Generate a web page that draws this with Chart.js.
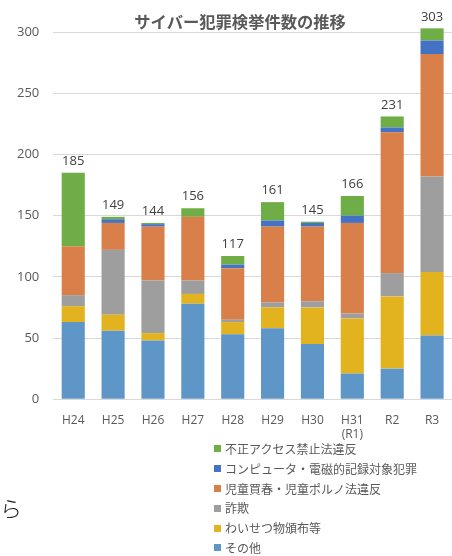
<!DOCTYPE html>
<html><head><meta charset="utf-8">
<script src="https://cdn.jsdelivr.net/npm/chart.js@4"></script>
<style>
html,body{margin:0;padding:0;background:#fff;width:452px;height:556px;overflow:hidden;font-family:"Noto Sans CJK JP","Noto Sans",sans-serif;}
#wrap{position:absolute;left:0;top:0;width:452px;height:556px;}
#legend{position:absolute;left:214px;top:439px;font-size:12px;color:#595959;line-height:19.8px;}
#legend .it{display:flex;align-items:center;white-space:nowrap;}
#legend .sw{width:7px;height:7px;margin-right:4px;display:inline-block;}
#stray{position:absolute;left:0px;top:491px;font-size:22px;color:#222;font-weight:300;}
</style></head>
<body>
<div id="wrap"><canvas id="c" width="452" height="556"></canvas></div>
<div id="legend"></div>
<div id="stray">ら</div>
<script>
const chartTitle = 'サイバー犯罪検挙件数の推移';
const categories = ['H24','H25','H26','H27','H28','H29','H30',['H31','(R1)'],'R2','R3'];
const seriesNames = ['その他','わいせつ物頒布等','詐欺','児童買春・児童ポルノ法違反','コンピュータ・電磁的記録対象犯罪','不正アクセス禁止法違反'];
const sonota     = [63, 56, 48, 78, 53, 58, 45, 21, 25, 52];
const waisetsu   = [13, 13,  6,  8, 10, 17, 30, 45, 59, 52];
const sagi       = [ 9, 53, 43, 11,  2,  4,  5,  4, 19, 78];
const jidou      = [40, 22, 44, 52, 42, 62, 61, 74,115,100];
const computer   = [ 0,  3,  2,  0,  3,  5,  3,  6,  4, 11];
const fusei      = [60,  2,  1,  7,  7, 15,  1, 16,  9, 10];
const yTicks = [0, 50, 100, 150, 200, 250, 300];
const colors = ['#5E96C8','#E2B31F','#9E9E9E','#D9804A','#4472C4','#6FAD47'];
const seriesValues = [sonota, waisetsu, sagi, jidou, computer, fusei];

const datasets = seriesValues.map((v,i)=>({
  label: seriesNames[i], data: v, backgroundColor: colors[i], borderWidth: 0,
  categoryPercentage: 1, barPercentage: 0.58, clip: false
}));

const totalsPlugin = {
  id:'totals',
  afterDatasetsDraw(chart){
    const ctx = chart.ctx;
    const ys = chart.scales.y;
    const meta = chart.getDatasetMeta(0);
    ctx.save();
    ctx.font = '13px "Open Sans", "Noto Sans", sans-serif';
    ctx.fillStyle = '#404040';
    ctx.textAlign = 'center';
    ctx.textBaseline = 'bottom';
    categories.forEach((c,i)=>{
      let t = 0; seriesValues.forEach(s=>t+=s[i]);
      const x = meta.data[i].x;
      ctx.fillText(String(t), x, ys.getPixelForValue(t) - 5);
    });
    // title
    ctx.font = 'bold 16.3px "Noto Sans CJK JP", sans-serif';
    ctx.fillStyle = '#595959';
    ctx.textBaseline = 'middle';
    ctx.fillText(chartTitle, 240, 22);
    ctx.restore();
  }
};

new Chart(document.getElementById('c'), {
  type:'bar',
  data:{labels:categories, datasets},
  options:{
    responsive:false, animation:false,
    layout:{padding:{left:3,right:0,top:32,bottom:108}},
    plugins:{
      legend:{display:false},
      tooltip:{enabled:false},
      title:{display:false}
    },
    scales:{
      x:{stacked:true, grid:{display:false}, border:{display:true,color:'#D9D9D9'},
         ticks:{color:'#595959',font:{size:12,family:'"Open Sans", sans-serif'},padding:6,maxRotation:0,autoSkip:false}},
      y:{stacked:true, min:0, max:300, afterBuildTicks(a){a.ticks = yTicks.map(v=>({value:v}));},
         grid:{color:'#D9D9D9',drawTicks:false}, border:{display:false},
         ticks:{color:'#595959',font:{size:13,family:'"Open Sans", sans-serif'},padding:14}}
    }
  },
  plugins:[totalsPlugin]
});

const lg = document.getElementById('legend');
for (let i = seriesNames.length-1; i>=0; i--) {
  const d = document.createElement('div'); d.className='it';
  const s = document.createElement('span'); s.className='sw'; s.style.background=colors[i];
  d.appendChild(s); d.appendChild(document.createTextNode(seriesNames[i]));
  lg.appendChild(d);
}
</script>
</body></html>
